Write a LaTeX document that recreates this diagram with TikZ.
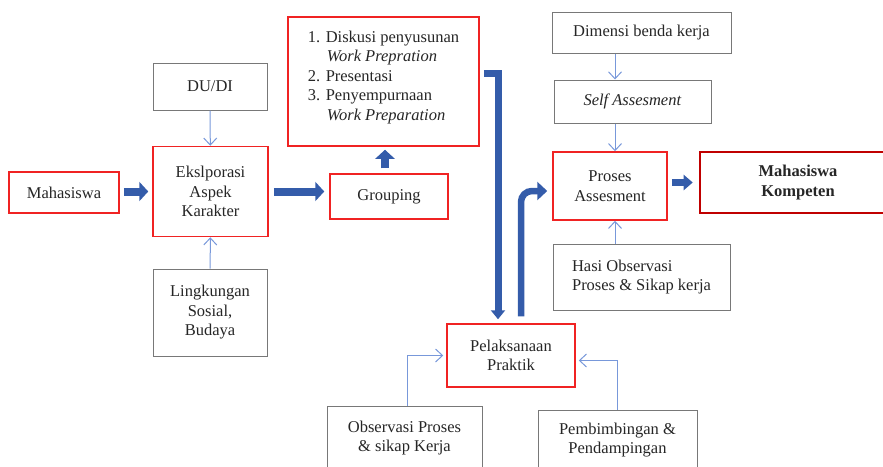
\documentclass[tikz,border=0pt]{standalone}
\usepackage{fontspec}
\setmainfont{Liberation Serif}
\usepackage{tikz}
\usetikzlibrary{arrows.meta,positioning,calc}
\definecolor{boxred}{RGB}{240,35,35}
\definecolor{darkred}{RGB}{192,0,0}
\definecolor{boxgray}{RGB}{120,120,120}
\definecolor{linkblue}{RGB}{120,152,218}
\definecolor{arrowblue}{RGB}{52,92,170}
\definecolor{txt}{RGB}{38,38,38}

\begin{document}
\begin{tikzpicture}[
			x=1pt,y=-1pt,
			every node/.style={text=txt, font=\fontsize{16.5}{19.5}\selectfont},
			redbox/.style={
				rectangle,
				draw=boxred,
				line width=1.5pt,
				fill=white,
				align=center
			},
			graybox/.style={
				rectangle,
				draw=boxgray,
				line width=1pt,
				fill=white,
				align=center
			},
			goalbox/.style={
				rectangle,
				draw=darkred,
				line width=2.6pt,
				fill=white,
				align=center,
				font=\fontsize{16.5}{20}\selectfont\bfseries
			},
			link/.style={draw=linkblue, line width=1pt, -{Straight Barb[length=7pt,width=13pt]}},
			fatarrow/.style={draw=arrowblue, line width=8pt, -{Triangle[length=9pt,width=19pt]}},
			slimarrow/.style={draw=arrowblue, line width=6.5pt, -{Triangle[length=9pt,width=15pt]}}
			]
			\useasboundingbox (0,0) rectangle (883,466);
			\clip (0,0) rectangle (883,466);
			% Left part: input and exploration
			\node[redbox, minimum width=110pt, minimum height=41pt] (mhs) at (64,192.5) {Mahasiswa};
			\node[redbox, minimum width=115pt, minimum height=90pt] (eks) at (210.5,191.5) {Ekslporasi\\Aspek\\Karakter};
			\node[graybox, minimum width=114pt, minimum height=47pt] (dudi) at (210,86.5) {DU/DI};
			\node[graybox, minimum width=114pt, minimum height=87pt] (ling) at (210,312.5) {Lingkungan\\Sosial,\\Budaya};
			\node[redbox, minimum width=118pt, minimum height=45pt] (grp) at (389,196.5) {Grouping};
			\node[redbox, minimum width=191pt, minimum height=129pt, align=left] (list) at (383.5,81.5) {1. Diskusi penyusunan\\\hspace*{19pt}\textit{Work Prepration}\\2. Presentasi\\3. Penyempurnaan\\\hspace*{19pt}\textit{Work Preparation}\vspace*{8pt}};
			% Practice
			\node[redbox, minimum width=128pt, minimum height=63pt] (pel) at (511,355.5) {Pelaksanaan\\Praktik};
			\node[graybox, minimum width=155pt, minimum height=64pt] (obs) at (404.5,438) {Observasi Proses\\\& sikap Kerja};
			\node[graybox, minimum width=159pt, minimum height=60pt] (pemb) at (617.5,440) {Pembimbingan \&\\Pendampingan};
			% Right part: assessment
			\node[graybox, minimum width=179pt, minimum height=41pt] (dim) at (641.5,32.5) {Dimensi benda kerja};
			\node[graybox, minimum width=157pt, minimum height=43pt] (self) at (632.5,101.5) {\textit{Self Assesment}};
			\node[redbox, minimum width=114pt, minimum height=68pt] (proc) at (610,186) {Proses\\Assesment};
			\node[goalbox, minimum width=196pt, minimum height=61pt] (komp) at (798,182.5) {Mahasiswa\\Kompeten};
			\node[graybox, minimum width=177pt, minimum height=66pt, align=left] (hasi) at (641.5,277) {Hasi Observasi\\Proses \& Sikap kerja};
			\coordinate (colx) at (615,0);
			\coordinate (upx) at (385,0);
			% Thin input links
			\draw[link] (dudi) -- (eks);
			\draw[link] (ling) -- (eks);
			\draw[link] (dim.south -| colx) -- (self.north -| colx);
			\draw[link] (self.south -| colx) -- (proc.north -| colx);
			\draw[link] (hasi.north -| colx) -- (proc.south -| colx);
			\draw[link, shorten >=3pt] ([xshift=3pt]obs.north) |- (pel.west);
			\draw[link, shorten >=3pt] (pemb.north) |- ([yshift=-5pt]pel.east);
			% Main flow (block arrows)
			\draw[fatarrow] ([xshift=4pt]mhs.east |- eks.east) -- ([xshift=-4pt]eks.west);
			\draw[fatarrow] ([xshift=5pt]eks.east) -- ([xshift=-5pt]grp.west |- eks.east);
			\draw[fatarrow] ([yshift=5pt]grp.north -| upx) -- ([yshift=-3pt]list.south -| upx);
			\draw[slimarrow] ([xshift=4pt]proc.east |- komp.west) -- ([xshift=-6pt]komp.west);
			\draw[slimarrow, line width=7pt, -{Triangle[length=9pt,width=14pt]}] ([xshift=4pt,yshift=-57pt]list.north east) -| ([xshift=-13pt,yshift=4pt]pel.north);
			\draw[slimarrow, -{Triangle[length=10pt,width=18pt]}, rounded corners=11pt] ([xshift=10pt,yshift=7pt]pel.north) |- ([xshift=-5pt,yshift=-5pt]proc.west);
		\end{tikzpicture}
\end{document}
